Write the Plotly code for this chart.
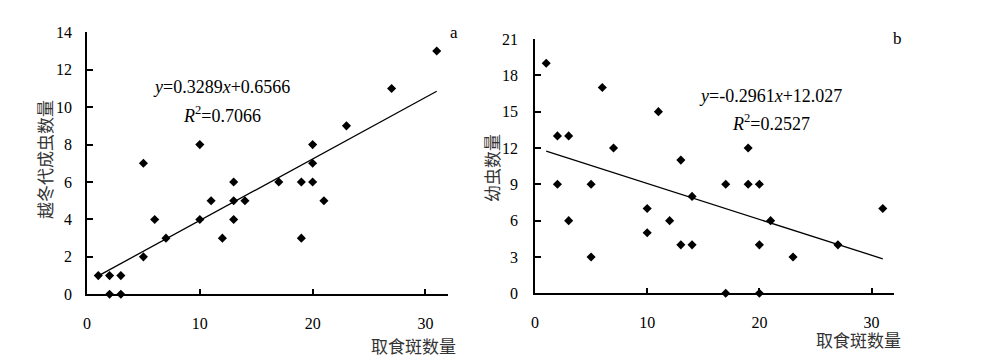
import plotly.graph_objects as go

# Panel a: feeding spots vs overwintering adults
a_x = [1, 2, 2, 3, 3, 5, 5, 6, 7, 10, 10, 11, 12, 13, 13, 13, 14, 17, 19, 19, 20, 20, 20, 21, 23, 27, 31]
a_y = [1, 1, 0, 1, 0, 7, 2, 4, 3, 8, 4, 5, 3, 6, 5, 4, 5, 6, 6, 3, 8, 7, 6, 5, 9, 11, 13]
a_slope, a_intercept = 0.3289, 0.6566

# Panel b: feeding spots vs larvae
b_x = [1, 2, 2, 3, 3, 5, 5, 6, 7, 10, 10, 11, 12, 13, 13, 14, 14, 17, 17, 19, 19, 20, 20, 20, 21, 23, 27, 31]
b_y = [19, 13, 9, 13, 6, 9, 3, 17, 12, 7, 5, 15, 6, 11, 4, 8, 4, 9, 0, 12, 9, 9, 4, 0, 6, 3, 4, 7]
b_slope, b_intercept = -0.2961, 12.027

x_ticks = [0, 10, 20, 30]
a_y_ticks = [0, 2, 4, 6, 8, 10, 12, 14]
b_y_ticks = [0, 3, 6, 9, 12, 15, 18, 21]

fit_x = [1, 31]

SERIF = "Liberation Serif"
CJK = "Noto Sans CJK SC"

fig = go.Figure()
fig.add_trace(go.Scatter(x=a_x, y=a_y, mode="markers",
                         marker=dict(symbol="diamond", size=7, color="black"),
                         xaxis="x", yaxis="y", showlegend=False, cliponaxis=False))
fig.add_trace(go.Scatter(x=fit_x, y=[a_slope * v + a_intercept for v in fit_x], mode="lines",
                         line=dict(color="black", width=1.3), xaxis="x", yaxis="y", showlegend=False))
fig.add_trace(go.Scatter(x=b_x, y=b_y, mode="markers",
                         marker=dict(symbol="diamond", size=7, color="black"),
                         xaxis="x2", yaxis="y2", showlegend=False, cliponaxis=False))
fig.add_trace(go.Scatter(x=fit_x, y=[b_slope * v + b_intercept for v in fit_x], mode="lines",
                         line=dict(color="black", width=1.3), xaxis="x2", yaxis="y2", showlegend=False))

W, H = 1000, 361
def px(v): return v / W
def py(v): return 1 - v / H

axis_common = dict(showgrid=False, zeroline=False, showline=True, linecolor="black", linewidth=1.5,
                   ticks="inside", ticklen=6, tickwidth=1.5, tickcolor="black", automargin=False,
                   tickfont=dict(family=SERIF, size=16, color="black"))

fig.update_layout(
    width=W, height=H, margin=dict(l=0, r=0, t=0, b=0, autoexpand=False),
    paper_bgcolor="white", plot_bgcolor="white",
    xaxis=dict(domain=[px(87), px(448)], range=[0, 32], tickvals=x_ticks, anchor="y",
               ticklabelstandoff=14, **axis_common),
    yaxis=dict(domain=[py(294.3), py(32.3)], range=[0, 14], tickvals=a_y_ticks, anchor="x",
               ticklabelstandoff=10, **axis_common),
    xaxis2=dict(domain=[px(535), px(894)], range=[0, 32], tickvals=x_ticks, anchor="y2",
                ticklabelstandoff=14, **axis_common),
    yaxis2=dict(domain=[py(293.3), py(39)], range=[0, 21], tickvals=b_y_ticks, anchor="x2",
                ticklabelstandoff=12, **axis_common),
)

ann = []
def text(x, y, s, size=16, family=SERIF, angle=0, color="black", xanchor="center"):
    ann.append(dict(x=px(x), y=py(y), xref="paper", yref="paper", text=s, showarrow=False,
                    font=dict(family=family, size=size, color=color), textangle=angle,
                    xanchor=xanchor, yanchor="middle"))

text(221, 87, "<i>y</i>=0.3289<i>x</i>+0.6566", size=18)
text(222, 114, "<i>R</i><sup>2</sup>=0.7066", size=18)
text(770, 96, "<i>y</i>=-0.2961<i>x</i>+12.027", size=18)
text(771, 122, "<i>R</i><sup>2</sup>=0.2527", size=18)
text(454, 32, "a", size=17)
text(897, 38, "b", size=17)
text(44, 160, "越冬代成虫数量", size=17, family=CJK, angle=-90, color="#333333")
text(491, 168, "幼虫数量", size=17, family=CJK, angle=-90, color="#333333")
text(413, 345, "取食斑数量", size=17, family=CJK, color="#333333")
text(858, 339, "取食斑数量", size=17, family=CJK, color="#333333")
fig.update_layout(annotations=ann)

fig.write_html("out.html", config={"displayModeBar": False},
               post_script="document.body.style.margin='0';")
